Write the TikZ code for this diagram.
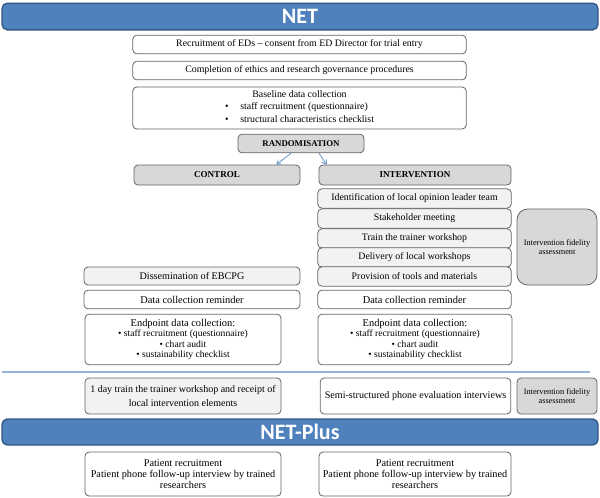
\documentclass[tikz,border=0pt]{standalone}
\usepackage{fontspec}
\setmainfont{Liberation Serif}
\newfontfamily\headfont{Carlito}
\usetikzlibrary{arrows.meta,calc}

\definecolor{bannerblue}{RGB}{79,129,189}
\definecolor{bannerline}{RGB}{52,88,132}
\definecolor{boxline}{RGB}{100,100,100}
\definecolor{grayfill}{RGB}{216,216,216}
\definecolor{lightfill}{RGB}{242,242,242}
\definecolor{sepline}{RGB}{149,179,215}

\tikzset{
  stagebox/.style={draw=boxline, line width=0.6pt, rounded corners=3, fill=white,
    inner sep=0.75pt, align=center, font=\fontsize{7.4}{8}\selectfont},
  graybox/.style={stagebox, fill=grayfill},
  lightbox/.style={stagebox, fill=lightfill},
  banner/.style={draw=bannerline, line width=1pt, rounded corners=4, fill=bannerblue,
    text=white, font=\headfont\bfseries\fontsize{16.5}{18}\selectfont, minimum width=447pt},
  arrow/.style={draw=bannerblue, line width=0.5pt, -{Straight Barb[length=3pt,width=4pt]}},
}

\begin{document}
\begin{tikzpicture}[x=0.75pt,y=0.75pt,yscale=-1,xscale=1]
        \useasboundingbox (0,0) rectangle (600,497);

        % NET banner and common steps
        \node (net) [banner, minimum height=20pt] at (300,16.5) {NET};
        \node (recruit) [stagebox, minimum width=250pt, minimum height=14pt] at (299.5,44.5) {Recruitment of EDs -- consent from ED Director for trial entry};
        \node (ethics) [stagebox, minimum width=250pt, minimum height=14pt] at (299.5,70.5) {Completion of ethics and research governance procedures};
        \node (baseline) [stagebox, minimum width=250pt, minimum height=31.5pt, font=\fontsize{7.4}{9}\selectfont] at (299.5,108) {Baseline data collection\\[2pt]
          \begin{tabular}{@{}l@{\hspace{1.2em}}l@{}}\textbullet & staff recruitment (questionnaire)\\[0.5pt]
          \textbullet & structural characteristics checklist\end{tabular}};
        \node (random) [graybox, minimum width=94.5pt, minimum height=14pt, font=\fontsize{6.6}{7.6}\selectfont\bfseries] at (301,143.5) {RANDOMISATION};

        % Control arm
        \node (control) [graybox, minimum width=124.5pt, minimum height=15pt, font=\fontsize{6.8}{7.6}\selectfont\bfseries] at (217,175) {CONTROL};
        \node (dissem) [lightbox, minimum width=162pt, minimum height=13.5pt, font=\fontsize{7.6}{8}\selectfont] at (192,276) {Dissemination of EBCPG};
        \node (remindc) [stagebox, minimum width=162pt, minimum height=14pt, font=\fontsize{7.8}{8}\selectfont] at (192,299.5) {Data collection reminder};
        \node (endc) [stagebox, minimum width=147pt, minimum height=38pt, font=\fontsize{7.2}{7.7}\selectfont] at (183,339.5) {{\fontsize{7.8}{8}\selectfont Endpoint data collection:}\\
          \textbullet{} staff recruitment (questionnaire)\\ \textbullet{} chart audit\\ \textbullet{} sustainability checklist};

        % Intervention arm
        \node (interv) [graybox, minimum width=144pt, minimum height=15pt, font=\fontsize{6.8}{7.6}\selectfont\bfseries] at (415,175) {INTERVENTION};
        \node (leader) [lightbox, minimum width=145pt, minimum height=14.5pt] at (414.5,198.5) {Identification of local opinion leader team};
        \node (stake) [lightbox, minimum width=145pt, minimum height=14.5pt] at (414.5,218.5) {Stakeholder meeting};
        \node (trainer) [lightbox, minimum width=145pt, minimum height=14.5pt] at (414.5,238.5) {Train the trainer workshop};
        \node (deliver) [lightbox, minimum width=145pt, minimum height=14.5pt] at (414.5,257.5) {Delivery of local workshops};
        \node (tools) [lightbox, minimum width=145pt, minimum height=14.5pt] at (414.5,276.5) {Provision of tools and materials};
        \node (fidelity) [graybox, rounded corners=8, minimum width=60pt, minimum height=57pt, font=\fontsize{6.2}{7.2}\selectfont] at (557,247) {Intervention fidelity\\assessment};
        \node (remindi) [stagebox, minimum width=145pt, minimum height=14pt, font=\fontsize{7.8}{8}\selectfont] at (414.5,299.5) {Data collection reminder};
        \node (endi) [stagebox, minimum width=145.5pt, minimum height=38pt, font=\fontsize{7.2}{7.7}\selectfont] at (415,339.5) {{\fontsize{7.8}{8}\selectfont Endpoint data collection:}\\
          \textbullet{} staff recruitment (questionnaire)\\ \textbullet{} chart audit\\ \textbullet{} sustainability checklist};

        % Randomisation arrows
        \draw [arrow] ($(random.south)+(-10,0)$) -- ($(control.north east)+(-24,0)$);
        \draw [arrow] ($(random.south)+(18,0)$) -- ($(interv.north west)+(8,0)$);

        % Separator
        \coordinate (sepl) at (2,372);
        \coordinate (sepr) at (590,372);
        \draw [sepline, line width=0.8pt] (sepl) -- (sepr);

        % Follow-up
        \node (oneday) [lightbox, minimum width=147pt, minimum height=27pt, font=\fontsize{7.5}{10}\selectfont] at (183,396) {1 day train the trainer workshop and receipt of\\local intervention elements};
        \node (phone) [stagebox, minimum width=143pt, minimum height=27pt, font=\fontsize{7.6}{9}\selectfont] at (415.5,396) {Semi-structured phone evaluation interviews};
        \node (fidelity2) [graybox, minimum width=60pt, minimum height=27pt, font=\fontsize{6.2}{7.2}\selectfont] at (557,396) {Intervention fidelity\\assessment};

        % NET-Plus banner and patient boxes
        \node (netplus) [banner, minimum height=19.5pt] at (300,432) {NET-Plus};
        \node (patc) [stagebox, minimum width=147pt, minimum height=33pt, font=\fontsize{7.7}{8.4}\selectfont] at (183,474) {Patient recruitment\\Patient phone follow-up interview by trained\\researchers};
        \node (pati) [stagebox, minimum width=144pt, minimum height=33pt, font=\fontsize{7.7}{8.4}\selectfont] at (415,474) {Patient recruitment\\Patient phone follow-up interview by trained\\researchers};
\end{tikzpicture}
\end{document}
